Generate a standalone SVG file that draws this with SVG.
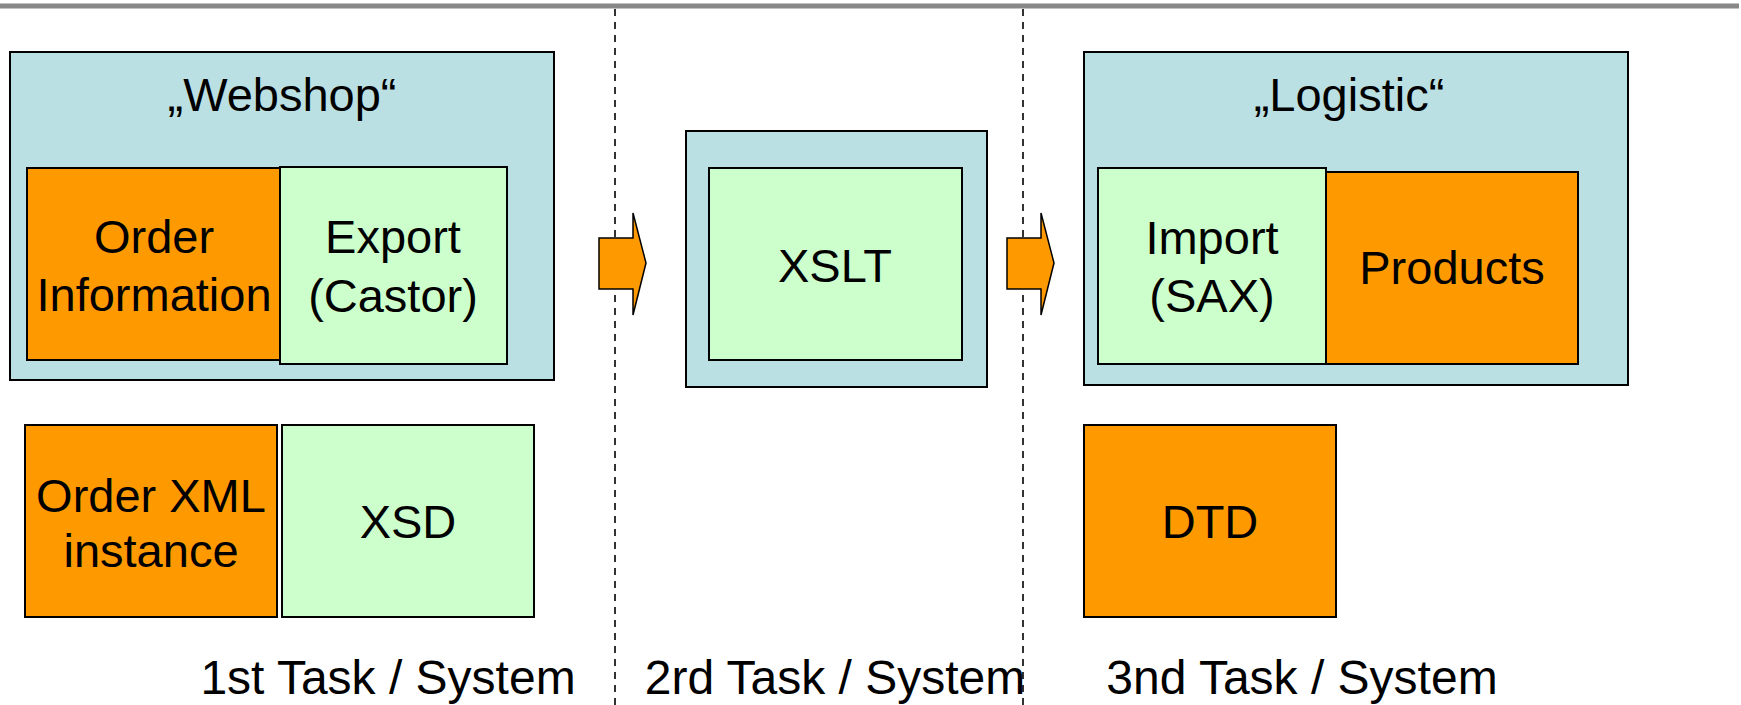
<svg xmlns="http://www.w3.org/2000/svg" width="1741" height="705" viewBox="0 0 1741 705">
<style>
.sys{fill:#BBE0E3;stroke:#000;stroke-width:2}
.grn{fill:#CCFFCC;stroke:#000;stroke-width:2}
.org{fill:#FF9900;stroke:#000;stroke-width:2}
.arr{fill:#FF9900;stroke:#000;stroke-width:1.5;stroke-linejoin:miter}
.dash{stroke:#000;stroke-width:1.6;stroke-dasharray:7 6;fill:none}
text{font-family:"Liberation Sans",Arial,sans-serif;font-size:47px;fill:#000;text-anchor:middle}
.lbl{font-size:48px}
</style>
<rect x="0" y="3.5" width="1739" height="5" fill="#888888"/>
<g id="connectors">
<line class="dash" x1="615" y1="9" x2="615" y2="705"/>
<line class="dash" x1="1023" y1="9" x2="1023" y2="705"/>
<polygon class="arr" points="599,238 633,238 633,213 646,263 633,315 633,289 599,289"/>
<polygon class="arr" points="1007,238 1041,238 1041,213 1054,263 1041,315 1041,289 1007,289"/>
</g>
<g id="webshop">
<rect class="sys" x="10" y="52" width="544" height="328"/>
<text x="282" y="111">„Webshop“</text>
</g>
<g id="order-information">
<rect class="org" x="27" y="168" width="254" height="192"/>
<text x="154" y="253">Order</text>
<text x="154" y="311">Information</text>
</g>
<g id="export">
<rect class="grn" x="280" y="167" width="227" height="197"/>
<text x="393" y="253">Export</text>
<text x="393" y="312">(Castor)</text>
</g>
<g id="xslt-system">
<rect class="sys" x="686" y="131" width="301" height="256"/>
</g>
<g id="xslt">
<rect class="grn" x="709" y="168" width="253" height="192"/>
<text x="835" y="282">XSLT</text>
</g>
<g id="logistic">
<rect class="sys" x="1084" y="52" width="544" height="333"/>
<text x="1349" y="111">„Logistic“</text>
</g>
<g id="import">
<rect class="grn" x="1098" y="168" width="228" height="196"/>
<text x="1212" y="254">Import</text>
<text x="1212" y="312">(SAX)</text>
</g>
<g id="products">
<rect class="org" x="1326" y="172" width="252" height="192"/>
<text x="1452" y="284">Products</text>
</g>
<g id="order-xml">
<rect class="org" x="25" y="425" width="252" height="192"/>
<text x="151" y="512">Order XML</text>
<text x="151" y="567">instance</text>
</g>
<g id="xsd">
<rect class="grn" x="282" y="425" width="252" height="192"/>
<text x="408" y="538">XSD</text>
</g>
<g id="dtd">
<rect class="org" x="1084" y="425" width="252" height="192"/>
<text x="1210" y="538">DTD</text>
</g>
<g id="labels">
<text class="lbl" x="388" y="694">1st Task / System</text>
<text class="lbl" x="835" y="694">2rd Task / System</text>
<text class="lbl" x="1302" y="694">3nd Task / System</text>
</g>
</svg>
